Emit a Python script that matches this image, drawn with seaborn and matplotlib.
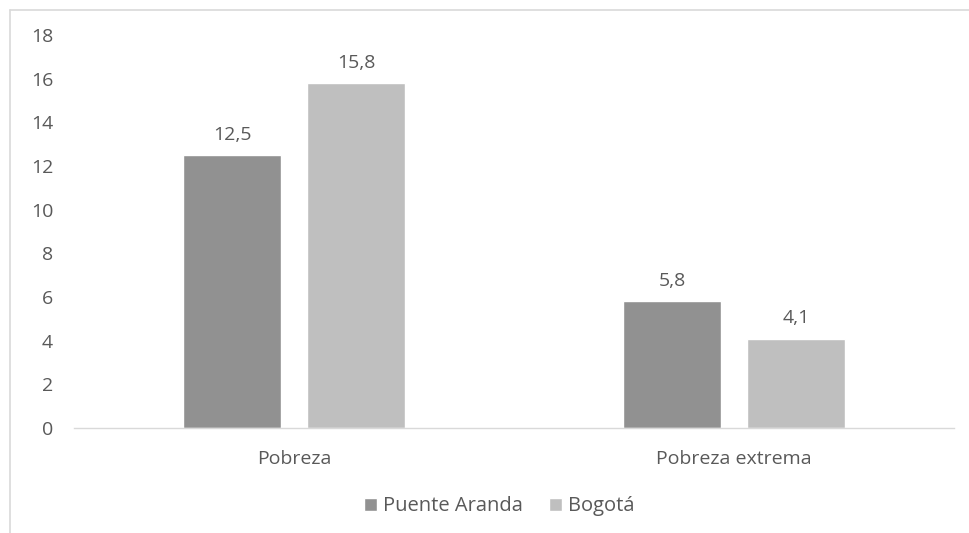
import pandas as pd
import matplotlib.pyplot as plt
import seaborn as sns
from matplotlib.lines import Line2D

categorias = ['Pobreza', 'Pobreza extrema']
series = ['Puente Aranda', 'Bogotá']
puente_aranda = [12.5, 5.8]
bogota = [15.8, 4.1]
colores = ['#919191', '#bfbfbf']

df = pd.DataFrame({
    'categoria': categorias * 2,
    'serie': [series[0]] * 2 + [series[1]] * 2,
    'valor': puente_aranda + bogota,
})

sns.set_style('white')
plt.rcParams['font.family'] = ['Open Sans', 'DejaVu Sans']
texto = '#595959'
fs = 14

fig = plt.figure(figsize=(9.69, 5.33), dpi=100)
ax = fig.add_axes([0.0764, 0.197, 0.908, 0.737])

sns.barplot(data=df, x='categoria', y='valor', hue='serie', palette=colores,
            width=0.5636, gap=0.21, saturation=1, ax=ax, legend=True)

for cont in ax.containers:
    etiquetas = [f'{v:.1f}'.replace('.', ',') for v in cont.datavalues]
    ax.bar_label(cont, labels=etiquetas, padding=8, fontsize=fs, color=texto)

ax.set_xlim(-0.5, 1.5)
ax.set_ylim(0, 18)
ax.set_yticks(range(0, 19, 2))
ax.set_xlabel('')
ax.set_ylabel('')
for s in ['top', 'right', 'left']:
    ax.spines[s].set_visible(False)
ax.spines['bottom'].set_color('#d9d9d9')
ax.spines['bottom'].set_linewidth(1)
ax.tick_params(axis='y', length=0, pad=15, labelsize=fs, labelcolor=texto)
ax.tick_params(axis='x', length=0, pad=16, labelsize=fs, labelcolor=texto)

ax.legend(loc='center', bbox_to_anchor=(0.515, 0.05), bbox_transform=fig.transFigure,
          ncol=2, frameon=False, fontsize=fs + 0.5, labelcolor=texto,
          handlelength=0.65, handleheight=0.65, handletextpad=0.3, columnspacing=1.3)

# marco del gráfico (recortado)
fig.add_artist(Line2D([0.0108, 0.0108], [0, 0.981], color='#d9d9d9', lw=1.2))
fig.add_artist(Line2D([0.0108, 1], [0.981, 0.981], color='#d9d9d9', lw=1.2))

plt.savefig('out.png', dpi=100)
